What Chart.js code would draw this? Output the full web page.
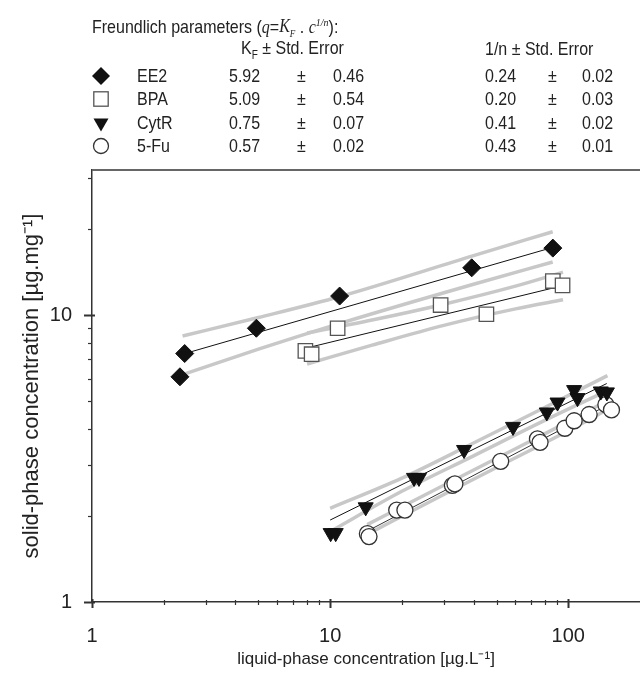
<!DOCTYPE html>
<html>
<head>
<meta charset="utf-8">
<script src="https://cdn.jsdelivr.net/npm/chart.js@4.4.1/dist/chart.umd.min.js"></script>
<style>
  html, body { margin:0; padding:0; background:#fff; }
  #wrap { position:relative; width:640px; height:676px; overflow:hidden; }
  #c { position:absolute; left:0; top:0; }
  .t { position:absolute; font-family:'Liberation Sans', Arial, sans-serif; font-size:16px; line-height:20px;
       color:#222; white-space:nowrap; transform:scaleY(1.2); transform-origin:left center; }
  .ser { font-family:'Liberation Serif', 'Times New Roman', serif; font-style:italic; }
  .sym { position:absolute; }
</style>
</head>
<body>
<div id="wrap">
  <canvas id="c" width="640" height="676"></canvas>
  <div id="hdr"></div>
</div>
<script>
// ---------- data ----------
const compounds = ['EE2', 'BPA', 'CytR', '5-Fu'];
const kfVals   = ['5.92', '5.09', '0.75', '0.57'];
const kfErrs   = ['0.46', '0.54', '0.07', '0.02'];
const invNVals = ['0.24', '0.20', '0.41', '0.43'];
const invNErrs = ['0.02', '0.03', '0.02', '0.01'];

const ee2X = [2.34, 2.45, 4.9, 10.96, 39.3, 86.1];
const ee2Y = [6.09, 7.34, 8.99, 11.64, 14.6, 17.1];
const bpaX = [7.87, 8.36, 10.75, 29.1, 45.3, 86.1, 94.6];
const bpaY = [7.50, 7.30, 8.99, 10.83, 10.06, 13.13, 12.68];
const cytX = [10.05, 10.55, 14.1, 22.5, 23.6, 36.5, 58.6, 81.2, 90.1, 105.8, 109.3, 136.9, 145.2];
const cytY = [1.74, 1.74, 2.14, 2.71, 2.71, 3.39, 4.08, 4.58, 4.96, 5.48, 5.14, 5.42, 5.38];
const fuX  = [14.33, 14.56, 19.03, 20.6, 32.6, 33.4, 52.0, 74.2, 76.1, 96.7, 105.8, 122.3, 143.8, 151.8];
const fuY  = [1.73, 1.69, 2.09, 2.09, 2.55, 2.58, 3.09, 3.70, 3.60, 4.03, 4.28, 4.50, 4.87, 4.67];

// fitted Freundlich lines (end points)
const ee2FitX = [2.4, 86.1];  const ee2FitY = [7.3, 17.2];
const bpaFitX = [8.1, 94.6];  const bpaFitY = [7.7, 12.65];
const cytFitX = [10, 145];    const cytFitY = [1.93, 5.77];
const fuFitX  = [14.4, 151];  const fuFitY  = [1.77, 4.92];

// confidence bands
const ee2BandX = [2.4, 5, 11, 40, 86];
const ee2UpY   = [8.45, 9.8, 11.6, 16.1, 19.5];
const ee2LoY   = [6.2, 7.6, 9.35, 12.8, 15.3];
const bpaBandX = [8, 15, 30, 60, 95];
const bpaUpY   = [8.65, 9.6, 10.9, 12.6, 14.1];
const bpaLoY   = [6.75, 7.85, 9.2, 10.5, 11.3];
const cytBandX = [10, 20, 40, 80, 146];
const cytUpY   = [2.12, 2.70, 3.58, 4.77, 6.15];
const cytLoY   = [1.76, 2.43, 3.23, 4.3, 5.45];
const fuBandX  = [14.3, 30, 60, 100, 150];
const fuUpY    = [1.86, 2.55, 3.42, 4.25, 5.1];
const fuLoY    = [1.72, 2.37, 3.18, 3.95, 4.74];

// axis ticks
const xTickVals  = [1,2,3,4,5,6,7,8,9,10,20,30,40,50,60,70,80,90,100];
const xLabelVals = [1, 10, 100];
const yTickVals  = [1,2,3,4,5,6,7,8,9,10,20,30];
const yLabelVals = [1, 10];

// ---------- header table (HTML text) ----------
const hdr = document.getElementById('hdr');
function addText(html, left, cy, extra) {
  const d = document.createElement('div');
  d.className = 't';
  d.innerHTML = html;
  d.style.left = left + 'px';
  d.style.top = (cy - 10) + 'px';
  if (extra) Object.assign(d.style, extra);
  hdr.appendChild(d);
}
addText('Freundlich parameters (<span class="ser">q</span>=<span class="ser">K<sub style="font-size:9px">F</sub></span> . <span class="ser">c</span><sup class="ser" style="font-size:10px">1/n</sup>):', 92, 23, {transform:'scaleY(1.12)'});
addText('K<sub style="font-size:10px">F</sub> ± Std. Error', 241, 49);
addText('1/n ± Std. Error', 485, 49);
const rowY = [75.5, 99, 122.5, 146];
const symSvg = [
  '<svg width="22" height="22"><polygon points="11,2 20,11 11,20 2,11" fill="#111"/></svg>',
  '<svg width="22" height="22"><rect x="3.8" y="3.8" width="14.4" height="14.4" fill="#fff" stroke="#555" stroke-width="1.3"/></svg>',
  '<svg width="22" height="22"><polygon points="3.5,6.6 18.5,6.6 11,19.6" fill="#111"/></svg>',
  '<svg width="22" height="22"><circle cx="11" cy="11" r="7.5" fill="#fff" stroke="#333" stroke-width="1.3"/></svg>'
];
compounds.forEach((name, i) => {
  const s = document.createElement('div');
  s.className = 'sym';
  s.innerHTML = symSvg[i];
  s.style.left = (101 - 11) + 'px';
  s.style.top = (rowY[i] - 11) + 'px';
  hdr.appendChild(s);
  addText(name, 137, rowY[i]);
  addText(kfVals[i], 229, rowY[i]);
  addText('±', 297, rowY[i]);
  addText(kfErrs[i], 333, rowY[i]);
  addText(invNVals[i], 485, rowY[i]);
  addText('±', 548, rowY[i]);
  addText(invNErrs[i], 582, rowY[i]);
});

// ---------- chart ----------
const zip = (xs, ys) => xs.map((x, i) => ({x, y: ys[i]}));
const FONT = "'Liberation Sans', Arial, sans-serif";

function markerSet(label, xs, ys, style) {
  return Object.assign({label, data: zip(xs, ys), showLine:false, order:0}, style);
}
function lineSet(label, xs, ys, color, width, order) {
  return {label, data: zip(xs, ys), showLine:true, pointRadius:0, borderColor:color,
          borderWidth:width, backgroundColor:'transparent', order, fill:false,
          cubicInterpolationMode:'monotone'};
}

const BAND = '#c8c8c8';
const datasets = [
  markerSet('EE2', ee2X, ee2Y, {pointStyle:'rectRot', pointRadius:9, backgroundColor:'#111', borderColor:'#111', borderWidth:1}),
  markerSet('BPA', bpaX, bpaY, {pointStyle:'rect', pointRadius:10.2, backgroundColor:'#fff', borderColor:'#555', borderWidth:1.3}),
  markerSet('CytR', cytX, cytY, {pointStyle:'triangle', pointRotation:180, pointRadius:8.7, backgroundColor:'#111', borderColor:'#111', borderWidth:1}),
  markerSet('5-Fu', fuX, fuY, {pointStyle:'circle', pointRadius:8, backgroundColor:'#fff', borderColor:'#333', borderWidth:1.3}),
  lineSet('EE2 fit', ee2FitX, ee2FitY, '#111', 1, 1),
  lineSet('BPA fit', bpaFitX, bpaFitY, '#111', 1, 1),
  lineSet('CytR fit', cytFitX, cytFitY, '#111', 1, 1),
  lineSet('5-Fu fit', fuFitX, fuFitY, '#333', 1, 1),
  lineSet('EE2 up', ee2BandX, ee2UpY, BAND, 3.5, 2),
  lineSet('EE2 lo', ee2BandX, ee2LoY, BAND, 3.5, 2),
  lineSet('BPA up', bpaBandX, bpaUpY, BAND, 3.5, 2),
  lineSet('BPA lo', bpaBandX, bpaLoY, BAND, 3.5, 2),
  lineSet('CytR up', cytBandX, cytUpY, BAND, 3.5, 2),
  lineSet('CytR lo', cytBandX, cytLoY, BAND, 3.5, 2),
  lineSet('5-Fu up', fuBandX, fuUpY, BAND, 3.5, 2),
  lineSet('5-Fu lo', fuBandX, fuLoY, BAND, 3.5, 2)
];

const tickMarks = {
  id: 'tickMarks',
  afterDraw(chart) {
    const {ctx, chartArea: a} = chart;
    const xs = chart.scales.x, ys = chart.scales.y;
    ctx.save();
    ctx.strokeStyle = '#333';
    xs.ticks.forEach(t => {
      const px = Math.round(xs.getPixelForValue(t.value)) + 0.5;
      const maj = xLabelVals.includes(t.value);
      ctx.lineWidth = maj ? 2 : 1.2;
      ctx.beginPath();
      ctx.moveTo(px, a.bottom - (maj ? 3 : 2));
      ctx.lineTo(px, a.bottom + (maj ? 6 : 3));
      ctx.stroke();
    });
    ys.ticks.forEach(t => {
      const py = Math.round(ys.getPixelForValue(t.value)) + 0.5;
      const maj = yLabelVals.includes(t.value);
      ctx.lineWidth = maj ? 2 : 1.2;
      ctx.beginPath();
      ctx.moveTo(a.left - (maj ? 8 : 4), py);
      ctx.lineTo(a.left + (maj ? 3 : 0), py);
      ctx.stroke();
    });
    ctx.strokeStyle = '#666';
    ctx.lineWidth = 2;
    ctx.beginPath();
    ctx.moveTo(a.left, a.top);
    ctx.lineTo(a.right, a.top);
    ctx.stroke();
    ctx.restore();
  }
};

new Chart(document.getElementById('c'), {
  type: 'scatter',
  data: { datasets },
  options: {
    responsive: false,
    animation: false,
    devicePixelRatio: 1,
    layout: { autoPadding: false, padding: { top: 170, left: 0, right: 0, bottom: 0 } },
    plugins: { legend: { display: false }, tooltip: { enabled: false } },
    scales: {
      x: {
        type: 'logarithmic', position: 'bottom', min: 1, max: 200,
        afterBuildTicks: s => { s.ticks = xTickVals.map(v => ({ value: v, major: xLabelVals.includes(v) })); },
        afterFit: s => { s.height = 74; s.paddingLeft = 0; s.paddingRight = 0; },
        grid: { display: false, drawTicks: false },
        border: { display: true, color: '#333', width: 1.5 },
        ticks: { autoSkip: false, maxRotation: 0, minRotation: 0, padding: 22, color: '#222',
                 font: { family: FONT, size: 20 },
                 callback: v => xLabelVals.includes(v) ? String(v) : '' },
        title: { display: true, text: 'liquid-phase concentration [µg.L⁻¹]', color: '#222',
                 font: { family: FONT, size: 17 }, padding: { top: 0, bottom: 6 } }
      },
      y: {
        type: 'logarithmic', position: 'left', min: 1, max: 32,
        afterBuildTicks: s => { s.ticks = yTickVals.map(v => ({ value: v, major: yLabelVals.includes(v) })); },
        afterFit: s => { s.width = 92; s.paddingTop = 0; s.paddingBottom = 0; },
        grid: { display: false, drawTicks: false },
        border: { display: true, color: '#333', width: 1.5 },
        ticks: { autoSkip: false, padding: 20, color: '#222',
                 font: { family: FONT, size: 20 },
                 callback: v => yLabelVals.includes(v) ? String(v) : '' },
        title: { display: true, text: 'solid-phase concentration [µg.mg⁻¹]', color: '#222',
                 font: { family: FONT, size: 22 }, padding: { top: 19, bottom: 0 } }
      }
    }
  },
  plugins: [tickMarks]
});
</script>
</body>
</html>
